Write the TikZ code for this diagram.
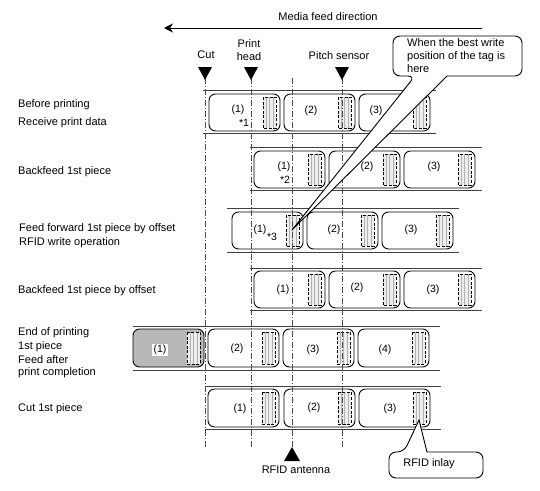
\documentclass[tikz,border=0pt]{standalone}
\usepackage{fontspec}
\setmainfont{Liberation Sans}
\usepackage{tikz}
\usetikzlibrary{arrows.meta}

\tikzset{
  txt/.style={inner sep=0pt,font=\fontsize{11}{13}\selectfont},
  num/.style={inner sep=0pt,font=\fontsize{10.5}{12}\selectfont},
  rowline/.style={line width=0.9pt,black!75},
  piecebox/.style={line width=0.9pt,rounded corners=6.5pt},
  tagbox/.style={line width=0.8pt,dash pattern=on 3pt off 1.6pt},
  stripe/.style={line width=0.5pt,black!30},
  guide/.style={line width=0.6pt,black!70,dash pattern=on 6pt off 2pt on 1pt off 2pt},
  callout/.style={line width=0.9pt,fill=white,rounded corners=7pt},
  marker/.style={fill=black,draw=none}
}

% one label with its tag: left edge, top, bottom, fill of the label
\newcommand{\piecelabel}[4]{
  \draw[piecebox,fill=#4] (#1,#2) rectangle (#1+71,#3);
  \fill[black!7] (#1+54,#2+3) rectangle (#1+67,#3-3);
  \foreach \sx in {57,60.5,64}
    \draw[stripe] (#1+\sx,#2+3) -- (#1+\sx,#3-3);
  \draw[tagbox] (#1+54,#2+3) rectangle (#1+67,#3-3);
}

\begin{document}
\begin{tikzpicture}[x=1pt,y=-1pt]
\useasboundingbox (0,0) rectangle (540,490);

% Feed direction
\draw[line width=1pt,-{Stealth[length=9pt,width=9pt,inset=3pt]}] (482,28)--(164,28);
\node[txt] (feed) at (328,17) {Media feed direction};

% Row lines
\foreach \xa/\xb/\ya/\yb in {203/436/90/133,250/482/147/190,227/459/208/252,250/482/268/310,133/440/326/370,205/441/386/429}{
  \draw[rowline] (\xa,\ya)--(\xb,\ya);
  \draw[rowline] (\xa,\yb)--(\xb,\yb);
}

% Labels
\foreach \px/\ya/\yb in {209/94/131,284/94/131,359/94/131,
    254/151/188,329/151/188,404/151/188,
    232/212/249,307/212/249,382/212/249,
    254/271/308,329/271/308,404/271/308,
    208/329/367,283/329/367,358/329/367,
    208/389/427,284/389/427,359/389/427}{
  \piecelabel{\px}{\ya}{\yb}{white}
}
\piecelabel{133}{329}{367}{black!28}

% Guides
\draw[guide] (205,78)--(205,447);
\draw[guide,line width=0.9pt] (251,78)--(251,447);
\draw[guide] (292,78)--(292,447);
\draw[guide] (342,78)--(342,447);

% Markers
\foreach \mx in {205,251,342}
  \fill[marker] (\mx-7,67)--(\mx+7,67)--(\mx,80)--cycle;
\fill[marker] (292,447)--(300,461)--(284,461)--cycle;

% Numbers
\node[num] (a1) at (238,110) {(1)};
\node[num] (a2) at (311,111) {(2)};
\node[num] (a3) at (376,111) {(3)};
\node[num] (as) at (244,123) {*1};
\node[num] (b1) at (284,167) {(1)};
\node[num] (b2) at (367,167) {(2)};
\node[num] (b3) at (434,167) {(3)};
\node[num] (bs) at (285,180) {*2};
\node[num] (c1) at (260,230) {(1)};
\node[num] (c2) at (334,230) {(2)};
\node[num] (c3) at (411,230) {(3)};
\node[num] (cs) at (272,237) {*3};
\node[num] (d1) at (283,290) {(1)};
\node[num] (d2) at (357,288) {(2)};
\node[num] (d3) at (433,290) {(3)};
\node[num,fill=white,inner sep=1.5pt] (e1) at (160,350) {(1)};
\node[num] (e2) at (237,349) {(2)};
\node[num] (e3) at (313,350) {(3)};
\node[num] (e4) at (385,350) {(4)};
\node[num] (f1) at (240,409) {(1)};
\node[num] (f2) at (314,408) {(2)};
\node[num] (f3) at (390,409) {(3)};

% Upper texts
\node[txt] (cut) at (206,55) {Cut};
\node[txt,align=center] (head) at (249,50) {Print\\head};
\node[txt] (pitch) at (339,56) {Pitch sensor};
\node[txt] (antenna) at (296,470) {RFID antenna};

% Step texts
\node[txt,anchor=west] (s1a) at (18,105) {Before printing};
\node[txt,anchor=west] (s1b) at (18,123) {Receive print data};
\node[txt,anchor=west] (s2) at (18,172) {Backfeed 1st piece};
\node[txt,anchor=west] (s3a) at (19,229) {Feed forward 1st piece by offset};
\node[txt,anchor=west] (s3b) at (19,243) {RFID write operation};
\node[txt,anchor=west] (s4) at (18,291) {Backfeed 1st piece by offset};
\node[txt,anchor=west] (s5a) at (18,333) {End of printing};
\node[txt,anchor=west] (s5b) at (18,347) {1st piece};
\node[txt,anchor=west] (s5c) at (18,360) {Feed after};
\node[txt,anchor=west] (s5d) at (18,373) {print completion};
\node[txt,anchor=west] (s6) at (18,409) {Cut 1st piece};

% Callouts
\draw[callout] (447,76)--(522,76)--(522,36)--(393,36)--(393,76)--(415,76)[sharp corners]--(292,230)--cycle;
\node[txt,anchor=north west,align=left] (best) at (407,38) {When the best write\\position of the tag is\\here};
\draw[callout] (427,452)--(483,452)--(483,478)--(389,478)--(389,452)--(404,452)[sharp corners]--(419,420)--cycle;
\node[txt] (inlay) at (429,464) {RFID inlay};

\end{tikzpicture}
\end{document}
